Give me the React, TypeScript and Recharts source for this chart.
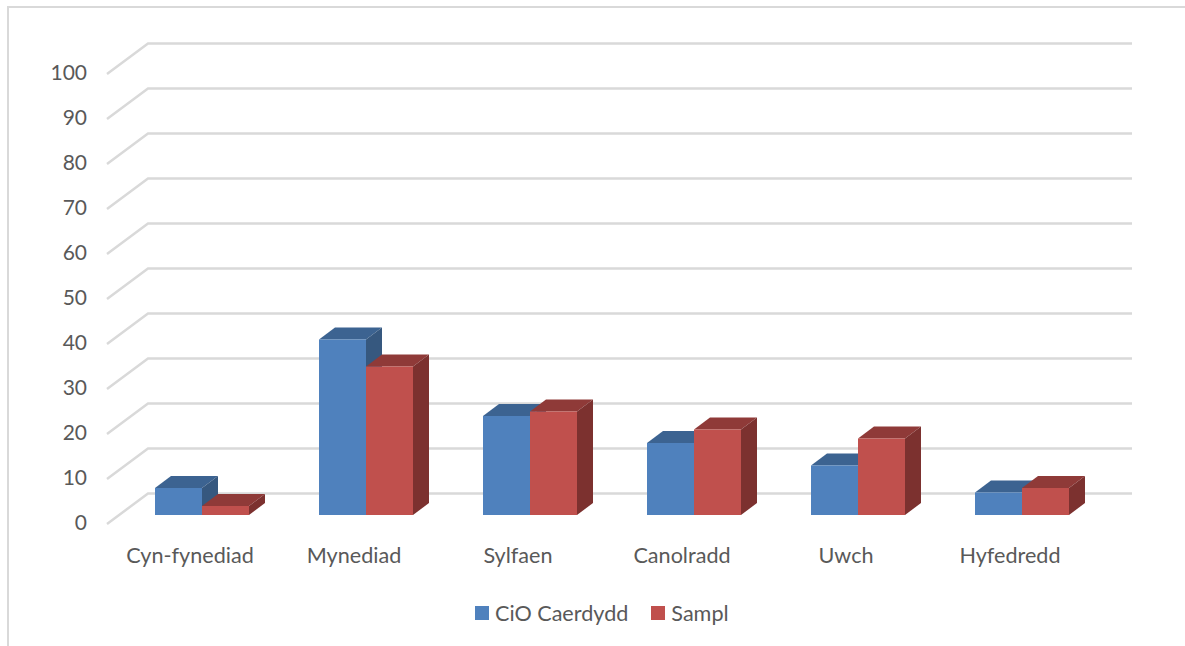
import { BarChart, Bar, XAxis, YAxis, CartesianGrid, Legend } from "recharts";

const categories = ["Cyn-fynediad", "Mynediad", "Sylfaen", "Canolradd", "Uwch", "Hyfedredd"];
const cioCaerdydd = [6, 39, 22, 16, 11, 5];
const sampl = [2, 33, 23, 19, 17, 6];
const yTicks = [0, 10, 20, 30, 40, 50, 60, 70, 80, 90, 100];

const data = categories.map((name, i) => ({
  name,
  cio: cioCaerdydd[i],
  sampl: sampl[i],
}));

const FONT = "Lato, sans-serif";
const TEXT = "#595959";
const GRID = "#D9D9D9";

// floor and wall perspective: how far the back wall sits from the front plane
const WALL_DX = 41;
const WALL_DY = 30.5;
// bars stand partway into the floor, and have their own depth
const BAR_DX = 13;
const BAR_DY = 9;
const DEPTH_DX = 16;
const DEPTH_DY = 12;

const bar3d = (front: string, top: string, side: string) => (props: any) => {
  const { width, height } = props;
  const x = props.x + BAR_DX;
  const y = props.y - BAR_DY;
  const right = x + width;
  const bottom = y + height;
  return (
    <g>
      <polygon
        points={`${x},${y} ${x + DEPTH_DX},${y - DEPTH_DY} ${right + DEPTH_DX},${y - DEPTH_DY} ${right},${y}`}
        fill={top}
      />
      <polygon
        points={`${right},${y} ${right + DEPTH_DX},${y - DEPTH_DY} ${right + DEPTH_DX},${bottom - DEPTH_DY} ${right},${bottom}`}
        fill={side}
      />
      <rect x={x} y={y} width={width} height={height} fill={front} />
    </g>
  );
};

// each gridline runs along the side wall, then across the back wall
const wallLine = (props: any) => {
  const { x1, x2, y1 } = props;
  return (
    <polyline
      key={`wall-${y1}`}
      points={`${x1},${y1} ${x1 + WALL_DX},${y1 - WALL_DY} ${x2 + WALL_DX},${y1 - WALL_DY}`}
      fill="none"
      stroke={GRID}
      strokeWidth={2.5}
    />
  );
};

const legendItems = (props: any) => (
  <div style={{ display: "flex", fontFamily: FONT, fontSize: 21.6, color: TEXT, lineHeight: "26px" }}>
    {props.payload.map((item: any) => (
      <div key={item.value} style={{ display: "flex", alignItems: "center", marginRight: 23 }}>
        <span style={{ width: 14, height: 14, background: item.color, marginRight: 6 }} />
        <span>{item.value}</span>
      </div>
    ))}
  </div>
);

export default function App() {
  return (
    <div
      style={{
        position: "absolute",
        left: 0,
        top: 0,
        width: 1185,
        height: 646,
        background: "#fff",
        overflow: "hidden",
      }}
    >
      <div
        style={{
          position: "absolute",
          left: 7,
          top: 6,
          width: 1178,
          height: 640,
          borderLeft: `2px solid ${GRID}`,
          borderTop: `2px solid ${GRID}`,
        }}
      />
      <BarChart
        width={1185}
        height={646}
        data={data}
        barSize={47}
        barGap={0}
        margin={{ top: 74, right: 94, bottom: 36, left: 47 }}
        style={{ position: "absolute", left: 0, top: 0 }}
      >
        <CartesianGrid vertical={false} horizontal={wallLine} horizontalValues={yTicks} />
        <XAxis
          dataKey="name"
          axisLine={false}
          tickLine={false}
          interval={0}
          height={60}
          tickMargin={18}
          tick={{ fill: TEXT, fontSize: 21.6, fontFamily: FONT, dx: 1 }}
        />
        <YAxis
          domain={[0, 100]}
          ticks={yTicks}
          interval={0}
          width={60}
          axisLine={false}
          tickLine={false}
          tickMargin={14}
          tick={{ fill: TEXT, fontSize: 21, fontFamily: FONT, dy: -1 }}
        />
        <Legend
          content={legendItems}
          wrapperStyle={{ position: "absolute", left: 475, top: 600, width: "auto" }}
        />
        <Bar
          dataKey="cio"
          name="CiO Caerdydd"
          fill="#4F81BD"
          isAnimationActive={false}
          shape={bar3d("#4F81BD", "#3C6391", "#36587F")}
        />
        <Bar
          dataKey="sampl"
          name="Sampl"
          fill="#C0504D"
          isAnimationActive={false}
          shape={bar3d("#C0504D", "#8F3A38", "#7C312F")}
        />
      </BarChart>
    </div>
  );
}
